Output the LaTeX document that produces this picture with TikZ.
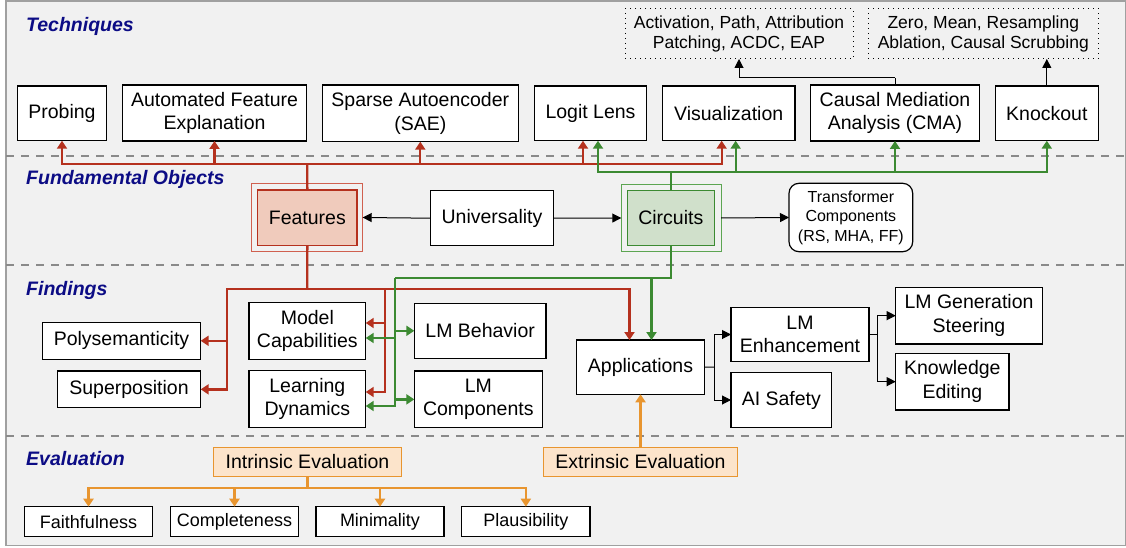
\documentclass[tikz,border=0pt]{standalone}
\usepackage{fontspec}
\setmainfont{Liberation Sans}
\usetikzlibrary{arrows.meta}
\definecolor{bgc}{HTML}{F1F1F1}
\definecolor{framec}{HTML}{A0A0A0}
\definecolor{sepc}{HTML}{8A8A8A}
\definecolor{navyc}{HTML}{0C0C85}
\definecolor{redc}{HTML}{B5311E}
\definecolor{redlt}{HTML}{D0604F}
\definecolor{redfill}{HTML}{F0CBBC}
\definecolor{greenc}{HTML}{3C8A32}
\definecolor{greenlt}{HTML}{5CA552}
\definecolor{greenfill}{HTML}{D0E0CB}
\definecolor{orangec}{HTML}{E8952F}
\definecolor{orangefill}{HTML}{FCE4CB}
\newcommand{\mainf}{\fontsize{19.5}{23.4}\selectfont}
\newcommand{\smallf}{\fontsize{16}{19.5}\selectfont}
\newcommand{\dotf}{\fontsize{17.5}{20.5}\selectfont}
\newcommand{\evf}{\fontsize{18}{21}\selectfont}
\newcommand{\mkbox}[7][bx]{\node[#1, minimum width={#5-#3}, minimum height={#6-#4}] (#2) at ({(#3+#5)/2},{(#4+#6)/2}) {#7};}
\tikzset{
  bx/.style={draw=black, line width=1.2pt, fill=white, inner sep=0pt, outer sep=0pt, align=center, font=\mainf, text=black},
  dotbx/.style={bx, line width=1pt, fill=none, dash pattern=on 1pt off 4pt, font=\dotf},
  featout/.style={bx, draw=redlt, line width=0.9pt, fill=none},
  featin/.style={bx, draw=redc, line width=1.2pt, fill=redfill},
  circout/.style={bx, draw=greenlt, line width=0.9pt, fill=none},
  circin/.style={bx, draw=greenc, line width=1.2pt, fill=greenfill},
  tcbx/.style={bx, rounded corners=10pt, font=\smallf},
  evbx/.style={bx, draw=orangec, line width=1.1pt, fill=orangefill},
  smbx/.style={bx, font=\evf},
  ttl/.style={font=\mainf\bfseries\itshape, text=navyc, inner sep=0pt, anchor=base west},
  sepline/.style={draw=sepc, line width=1.1pt, dash pattern=on 8pt off 7pt},
  bl/.style={draw=black, line width=1pt, -{Triangle[length=9pt,width=9pt]}},
  blp/.style={draw=black, line width=1pt},
  rl/.style={draw=redc, line width=2.3pt},
  rla/.style={rl, -{Triangle[length=8pt,width=10pt]}},
  gl/.style={draw=greenc, line width=2.3pt},
  gla/.style={gl, -{Triangle[length=8pt,width=10pt]}},
  ol/.style={draw=orangec, line width=2.2pt},
  ola/.style={ol, -{Triangle[length=8pt,width=10pt]}},
}
\begin{document}
\begin{tikzpicture}[x=1pt,y=-1pt]
\useasboundingbox (0,0) rectangle (1126,548);
\draw[draw=framec, line width=1.5pt, fill=bgc] (6,0.8) rectangle (1125.5,545.7);
\draw[sepline] (6,156) -- (1126,156);
\draw[sepline] (6,265) -- (1126,265);
\draw[sepline] (6,436) -- (1126,436);

% section titles
\node[ttl] (tTech) at (26,32) {Techniques};
\node[ttl] (tFund) at (26,185) {Fundamental Objects};
\node[ttl] (tFind) at (26,295) {Findings};
\node[ttl] (tEval) at (26,465.7) {Evaluation};

% techniques
\mkbox{probing}{17.3}{86}{106.7}{140.7}{Probing}
\mkbox{afe}{122.3}{85}{306.7}{141}{Automated Feature\\Explanation}
\mkbox{sae}{322.3}{85}{518.3}{141.7}{Sparse Autoencoder\\(SAE)}
\mkbox{logit}{534.3}{86}{646.7}{140.7}{Logit Lens}
\mkbox{vis}{662.3}{86}{795}{140.7}{Visualization}
\mkbox{cma}{810.7}{85}{979.3}{141}{Causal Mediation\\Analysis (CMA)}
\mkbox{knock}{995.3}{86}{1098.3}{140.7}{Knockout}
\mkbox[dotbx]{act}{625}{9}{853}{59}{Activation, Path, Attribution\\Patching, ACDC, EAP}
\mkbox[dotbx]{zero}{868.3}{8.5}{1098.3}{59}{Zero, Mean, Resampling\\Ablation, Causal Scrubbing}

% fundamental objects
\mkbox[featout]{featO}{251.7}{183.3}{362.7}{251.7}{}
\mkbox[featin]{feat}{257.7}{190}{357}{245.7}{Features}
\mkbox{univ}{430.3}{190.7}{553.7}{245.7}{Universality}
\mkbox[circout]{circO}{621.3}{184.3}{721}{251.7}{}
\mkbox[circin]{circ}{627.3}{190.3}{714.3}{245.7}{Circuits}
\mkbox[tcbx]{tc}{789}{183.3}{912.7}{251.7}{Transformer\\Components\\(RS, MHA, FF)}

% findings
\mkbox{poly}{42.3}{322.3}{200.7}{359.3}{Polysemanticity}
\mkbox{super}{57.3}{371}{200.7}{407.7}{Superposition}
\mkbox{mcap}{249}{302.7}{365.7}{359.3}{Model\\Capabilities}
\mkbox{ldyn}{249}{370.7}{365.7}{427.3}{Learning\\Dynamics}
\mkbox{lmbeh}{414.3}{303.3}{546}{358.3}{LM Behavior}
\mkbox{lmcomp}{414.3}{371}{542.3}{427.7}{LM\\Components}
\mkbox{app}{576.7}{340}{704.3}{394.3}{Applications}
\mkbox{lmenh}{731}{307.3}{869}{361.7}{LM\\Enhancement}
\mkbox{aisafe}{731}{372.7}{831.7}{427.3}{AI Safety}
\mkbox{lmgs}{895.7}{287.3}{1042.3}{344}{LM Generation\\Steering}
\mkbox{ke}{895.7}{353.3}{1009}{410}{Knowledge\\Editing}

% evaluation
\mkbox[evbx]{intr}{213.3}{447.3}{401.7}{476.7}{Intrinsic Evaluation}
\mkbox[evbx]{extr}{543.3}{447.3}{737.7}{476.7}{Extrinsic Evaluation}
\mkbox[smbx]{faith}{24.3}{506.7}{152.7}{536.7}{Faithfulness}
\mkbox[smbx]{compl}{170.7}{506.7}{298.3}{536.7}{Completeness}
\mkbox[smbx]{minim}{316}{506.7}{444}{536.7}{Minimality}
\mkbox[smbx]{plaus}{461.7}{506.7}{590}{536.7}{Plausibility}

% black connectors
\draw[bl] (univ.west) -- (featO.east);
\draw[bl] (univ.east) -- (circO.west);
\draw[bl] (circO.east) -- (tc.west);
\coordinate (cj) at (895,78);
\draw[blp] (cma.north) -- (cj);
\draw[bl] (cj) -| (act.south);
\draw[bl] (knock.north) -- (knock.north |- zero.south);
\coordinate (aj) at (714,367.2);
\draw[blp] (app.east) -- (aj);
\draw[bl] (aj) |- (lmenh.west);
\draw[bl] (aj) |- (aisafe.west);
\coordinate (ej) at (877.7,334.5);
\draw[blp] (lmenh.east) -- (ej);
\draw[bl] (ej) |- (lmgs.west);
\draw[bl] (ej) |- (ke.west);

% red (features) connectors
\coordinate (rt) at (307.3,164);
\draw[rl] (feat.north) -- (rt);
\draw[rla] (rt) -| (probing.south);
\draw[rla] (rt) -| (afe.south);
\draw[rla] (rt) -| (sae.south);
\draw[rla] (rt) -| ([xshift=-7.5]logit.south);
\draw[rla] (rt) -| ([xshift=-7]vis.south);
\coordinate (rf) at (307.3,289.3);
\coordinate (rv1) at (227,289.3);
\coordinate (rv2) at (385,289.3);
\draw[rl] (feat.south) -- (rf);
\draw[rla] (rf) -- (rv1) |- (poly.east);
\draw[rla] (rv1) |- (super.east);
\draw[rla] (rf) -| ([xshift=-11]app.north);
\draw[rla] (rv2) |- ([yshift=8]mcap.east);
\draw[rla] (rv2) |- ([yshift=7]ldyn.east);

% green (circuits) connectors
\coordinate (gt) at (670.8,172);
\draw[gl] (circ.north) -- (gt);
\draw[gla] (gt) -| ([xshift=7.5]logit.south);
\draw[gla] (gt) -| ([xshift=7]vis.south);
\draw[gla] (gt) -| (cma.south);
\draw[gla] (gt) -| (knock.south);
\coordinate (gf) at (670.8,278.3);
\coordinate (gv) at (395.3,278.3);
\draw[gl] (circ.south) -- (gf) -- (gv);
\draw[gla] (gf) -| ([xshift=11]app.north);
\draw[gla] (gv) |- ([yshift=-7]mcap.east);
\draw[gla] (gv) |- ([yshift=-7]ldyn.east);
\draw[gla] (gv) |- (lmbeh.west);
\draw[gla] (gv) |- (lmcomp.west);

% orange (evaluation) connectors
\draw[ola] (extr.north) -- (app.south);
\coordinate (ij) at (307.5,488);
\draw[ol] (intr.south) -- (ij);
\draw[ola] (ij) -| (faith.north);
\draw[ola] (ij) -| (compl.north);
\draw[ola] (ij) -| (minim.north);
\draw[ola] (ij) -| (plaus.north);
\end{tikzpicture}
\end{document}
